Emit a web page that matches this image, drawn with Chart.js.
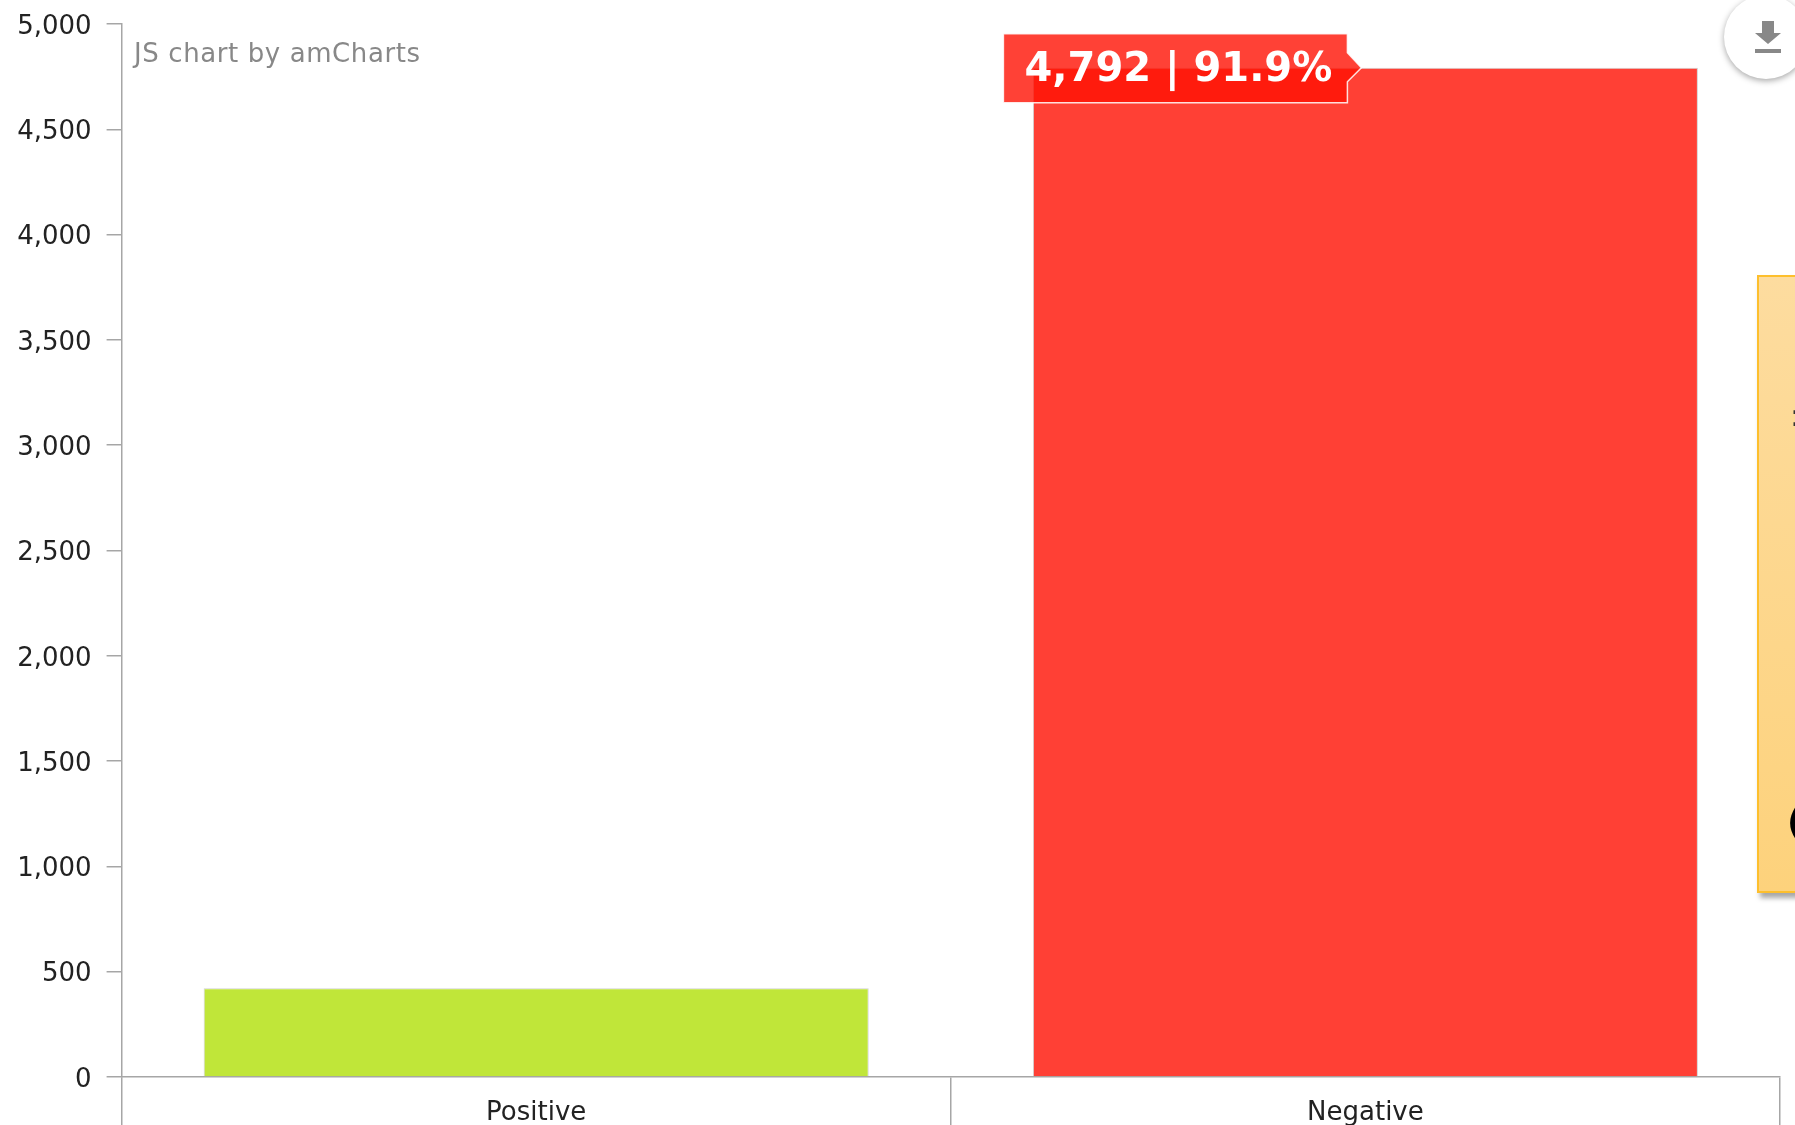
<!DOCTYPE html>
<html>
<head>
<meta charset="utf-8">
<title>Sentiment</title>
<script src="https://cdn.jsdelivr.net/npm/chart.js@4"></script>
<style>
  html, body { margin: 0; padding: 0; background: #fff; overflow: hidden; }
  #wrap { position: relative; width: 1795px; height: 1125px; overflow: hidden; }
  #credit { position: absolute; left: 134px; top: 38px; font: 26px "DejaVu Sans", sans-serif; letter-spacing: 0.6px; color: #888; }
  #exportBtn { position: absolute; left: 1724px; top: -5px; width: 84px; height: 84px; border-radius: 50%; background: #fff; box-shadow: 0 2px 6px rgba(0,0,0,.35); }
  #exportBtn svg { position: absolute; left: 31px; top: 26px; }
  #note { position: absolute; left: 1757px; top: 275px; width: 60px; height: 618px; box-sizing: border-box; border: 2px solid #fdbf2d;
    background: linear-gradient(#fddc9f, #fdd27c); box-shadow: 3px 5px 5px rgba(0,0,0,.35); }
  #note span { position: absolute; font-family: "DejaVu Sans", sans-serif; }
  #noteColon { left: 31px; top: 124px; font-size: 30px; line-height: 30px; color: #333; }
  #noteParen { left: 28px; top: 523px; font-size: 36px; line-height: 44px; font-weight: bold; color: #000; }
</style>
</head>
<body>
<div id="wrap">
  <canvas id="sentimentChart" width="1795" height="1125"></canvas>
  <div id="credit">JS chart by amCharts</div>
  <div id="exportBtn">
    <svg width="26" height="32" viewBox="0 0 26 32"><path d="M7 0h12v12h7L13 23 0 12h7z M0 28h26v4H0z" fill="#888"/></svg>
  </div>
  <div id="note"><span id="noteColon">:</span><span id="noteParen">(</span></div>
</div>
<script>
let categories = ['Positive', 'Negative']
let counts = [422, 4792]
let shares = [8.1, 91.9]
let barColors = ['#c0e639', '#ff4035']
let yMax = 5000
let yStep = 500

// balloon on the negative bar, hangs off the top of the bar
let balloonPlugin = {
  id: 'balloon',
  afterDatasetsDraw(chart) {
    const bar = chart.getDatasetMeta(0).data[1]
    const tipX = bar.x - 4
    const tipY = bar.y
    const left = tipX - 358
    const right = tipX - 14
    const top = tipY - 34
    const bottom = tipY + 35
    const ctx = chart.ctx
    ctx.save()
    ctx.beginPath()
    ctx.moveTo(left, top)
    ctx.lineTo(right, top)
    ctx.lineTo(right, tipY - 15)
    ctx.lineTo(tipX, tipY)
    ctx.lineTo(right, tipY + 14)
    ctx.lineTo(right, bottom)
    ctx.lineTo(left, bottom)
    ctx.closePath()
    ctx.fillStyle = 'rgba(255, 18, 4, 0.8)'
    ctx.fill()
    ctx.strokeStyle = 'rgba(255, 255, 255, 0.85)'
    ctx.lineWidth = 1.5
    ctx.stroke()
    ctx.fillStyle = '#fff'
    ctx.font = 'bold 40px "DejaVu Sans"'
    ctx.textAlign = 'center'
    ctx.textBaseline = 'middle'
    ctx.fillText(counts[1].toLocaleString('en-US') + ' | ' + shares[1] + '%', (left + right) / 2 + 3, tipY + 3)
    ctx.restore()
  }
}

const ctx = document.getElementById('sentimentChart').getContext('2d')
const myChart = new Chart(ctx, {
  type: 'bar',
  data: {
    labels: categories,
    datasets: [{
      data: counts,
      backgroundColor: barColors,
      borderColor: 'rgba(190, 190, 190, 0.7)',
      borderWidth: 1,
      barPercentage: 0.802,
      categoryPercentage: 1
    }]
  },
  plugins: [balloonPlugin],
  options: {
    responsive: false,
    animation: false,
    layout: { padding: { top: 24, right: 15, left: 0, bottom: 0 } },
    plugins: { legend: { display: false }, tooltip: { enabled: false } },
    scales: {
      x: {
        offset: true,
        afterFit: (axis) => { axis.height = 48 },
        grid: { offset: true, drawOnChartArea: false, color: '#a6a6a6', lineWidth: 1.5, tickLength: 48 },
        border: { color: '#a6a6a6', width: 1.5 },
        ticks: { padding: -27, color: '#222', font: { family: 'DejaVu Sans', size: 26 }, maxRotation: 0 }
      },
      y: {
        min: 0,
        max: yMax,
        // the half label padding would push the top of the axis down
        afterFit: (axis) => { axis.width = 121.6; axis.paddingTop = 0; axis.paddingBottom = 0 },
        grid: { drawOnChartArea: false, color: '#a6a6a6', lineWidth: 1.5, tickLength: 15 },
        border: { color: '#a6a6a6', width: 1.5 },
        ticks: {
          stepSize: yStep,
          padding: 15,
          labelOffset: 3,
          color: '#222',
          font: { family: 'DejaVu Sans', size: 26 },
          callback: (val) => val.toLocaleString('en-US')
        }
      }
    }
  }
})
</script>
</body>
</html>
